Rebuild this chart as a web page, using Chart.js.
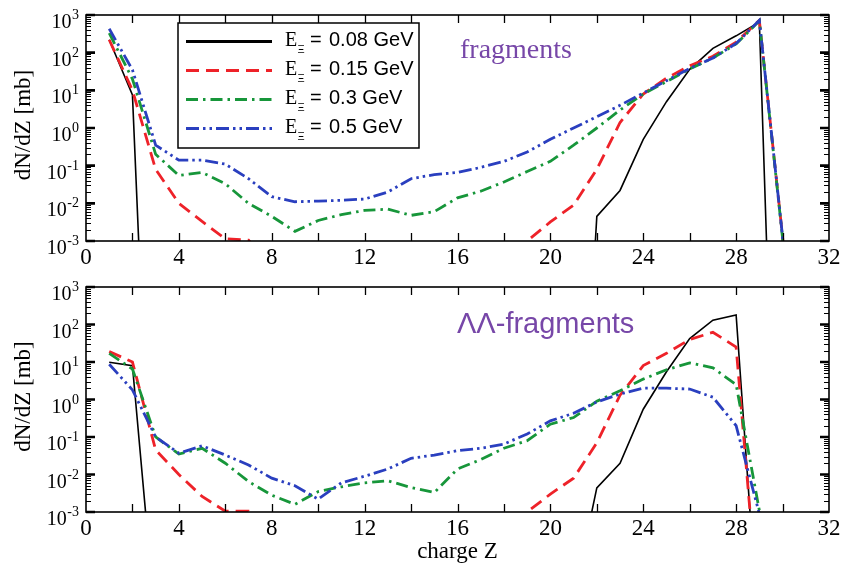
<!DOCTYPE html>
<html>
<head>
<meta charset="utf-8">
<script src="https://cdn.jsdelivr.net/npm/chart.js@4.4.1/dist/chart.umd.min.js"></script>
<style>
  html, body { margin: 0; padding: 0; background: #fff; }
  canvas { display: block; }
</style>
</head>
<body>
<canvas id="top" width="842" height="272"></canvas>
<canvas id="bottom" width="842" height="294"></canvas>
<script>
// ---------------- DATA ----------------
const Z_VALUES = [1,2,3,4,5,6,7,8,9,10,11,12,13,14,15,16,17,18,19,20,21,22,23,24,25,26,27,28,29,30,31];
const ENERGY_LABELS = ['0.08', '0.15', '0.3', '0.5'];
const X_TICK_LABELS = [0, 4, 8, 12, 16, 20, 24, 28, 32];
const X_TICK_MARKS = [2, 4, 6, 8, 10, 12, 14, 16, 18, 20, 22, 24, 26, 28, 30];
const Y_TICK_EXPONENTS = ['3', '2', '1', '0', '-1', '-2', '-3'];
const PANEL_LABELS = ['fragments', 'ΛΛ-fragments'];

// top panel: fragments, dN/dZ [mb]
const FRAG_E008 = [220, 7.5, 3e-14, null, null, null, null, null, null, null, null, null, null, null, null, null, null, null, null, null, 1e-13, 4.5e-3, 0.022, 0.5, 5, 36, 130, 280, 650, 1e-16, null];
const FRAG_E015 = [220, 10, 0.08, 0.01, 3.3e-3, 1.15e-3, 1.05e-3, 2e-4, null, null, null, null, null, null, null, null, null, 2e-4, 1.0e-3, 3.2e-3, 9e-3, 0.08, 1.4, 8, 21, 45, 80, 190, 720, 1.3e-3, 1e-12];
const FRAG_E03  = [330, 20, 0.2, 0.055, 0.066, 0.033, 0.01, 4.5e-3, 1.8e-3, 3.5e-3, 5e-3, 6.5e-3, 7e-3, 4.8e-3, 6e-3, 0.014, 0.021, 0.037, 0.07, 0.13, 0.35, 1.0, 3.0, 8, 17, 37, 72, 170, 700, 1.2e-3, 1e-12];
const FRAG_E05  = [430, 35, 0.35, 0.14, 0.14, 0.11, 0.045, 0.015, 0.011, 0.0115, 0.012, 0.013, 0.02, 0.045, 0.058, 0.066, 0.09, 0.13, 0.23, 0.5, 1.0, 2.0, 4.0, 8.5, 18, 38, 72, 175, 720, 1.3e-3, 1e-12];

// bottom panel: LambdaLambda-fragments, dN/dZ [mb]
const LL_E008 = [9.8, 8, 1e-6, null, null, null, null, null, null, null, null, null, null, null, null, null, null, null, null, null, 5e-6, 4.4e-3, 0.02, 0.55, 5.5, 42, 130, 180, 3e-7, null, null];
const LL_E015 = [19, 10, 0.045, 0.01, 2.6e-3, 1.05e-3, 1.05e-3, 2e-4, null, null, null, null, null, null, null, null, null, 2e-4, 1.0e-3, 3e-3, 8e-3, 0.07, 1.3, 8, 17, 40, 62, 25, 1.2e-6, null, null];
const LL_E03  = [17, 6.5, 0.1, 0.035, 0.05, 0.02, 6.5e-3, 2.8e-3, 1.6e-3, 3.5e-3, 4.7e-3, 6e-3, 6.8e-3, 4.5e-3, 3.3e-3, 0.014, 0.025, 0.05, 0.08, 0.22, 0.33, 0.9, 1.7, 3.5, 6.2, 9.5, 7, 2.5, 1.1e-3, 1e-10, null];
const LL_E05  = [8.7, 1.8, 0.1, 0.037, 0.058, 0.033, 0.018, 8e-3, 5e-3, 2.2e-3, 6e-3, 9e-3, 0.014, 0.027, 0.033, 0.043, 0.05, 0.065, 0.12, 0.27, 0.43, 0.86, 1.4, 2.0, 2.0, 1.9, 1.15, 0.2, 9e-4, null, null];

// ---------------- STYLE ----------------
const STYLES = [
  { color: '#000000', width: 1.6, dash: [] , legendWidth: 3},
  { color: '#ee2229', width: 2.8, dash: [13, 7], legendWidth: 3 },
  { color: '#17963a', width: 2.8, dash: [12, 5, 2.5, 5], legendWidth: 3 },
  { color: '#2a3fbf', width: 2.8, dash: [13, 4, 2.5, 4, 2.5, 4], legendWidth: 3 }
];
const PURPLE = '#7747a8';

function makeDatasets(seriesList) {
  return seriesList.map((vals, i) => ({
    label: 'E = ' + ENERGY_LABELS[i] + ' GeV',
    data: Z_VALUES.map((z, k) => ({ x: z, y: vals[k] })),
    borderColor: STYLES[i].color,
    borderWidth: STYLES[i].width,
    borderDash: STYLES[i].dash,
    borderCapStyle: 'butt',
    pointRadius: 0,
    fill: false,
    tension: 0,
    spanGaps: false,
    clip: 0
  })).reverse();
}

function drawFrameAndAxes(chart, cfg) {
  const { ctx, chartArea: a, scales: { x, y } } = chart;
  ctx.save();
  ctx.strokeStyle = '#000';
  ctx.setLineDash([]);
  // x tick marks (inward, top and bottom)
  ctx.lineWidth = 1.3;
  X_TICK_MARKS.forEach(v => {
    const px = Math.round(x.getPixelForValue(v)) + 0.5;
    ctx.beginPath();
    ctx.moveTo(px, a.bottom); ctx.lineTo(px, a.bottom - 8);
    ctx.moveTo(px, a.top); ctx.lineTo(px, a.top + 8);
    ctx.stroke();
  });
  // y tick marks (inward, left and right)
  for (let e = -3; e <= 3; e++) {
    const py = y.getPixelForValue(Math.pow(10, e));
    ctx.lineWidth = 2.6;
    ctx.beginPath();
    ctx.moveTo(a.left, py); ctx.lineTo(a.left + 9, py);
    ctx.moveTo(a.right, py); ctx.lineTo(a.right - 9, py);
    ctx.stroke();
    if (e < 3) {
      ctx.lineWidth = 1;
      for (let m = 2; m <= 9; m++) {
        const pm = Math.round(y.getPixelForValue(m * Math.pow(10, e))) + 0.5;
        ctx.beginPath();
        ctx.moveTo(a.left, pm); ctx.lineTo(a.left + 5, pm);
        ctx.moveTo(a.right, pm); ctx.lineTo(a.right - 5, pm);
        ctx.stroke();
      }
    }
  }
  // frame
  ctx.lineWidth = 1.6;
  ctx.strokeRect(a.left, a.top, a.right - a.left, a.bottom - a.top);

  // x tick labels
  ctx.fillStyle = '#000';
  ctx.font = '23px "Liberation Serif"';
  ctx.textAlign = 'center';
  ctx.textBaseline = 'alphabetic';
  X_TICK_LABELS.forEach(v => {
    ctx.fillText(String(v), x.getPixelForValue(v), a.bottom + 23);
  });
  // y tick labels 10^n
  Y_TICK_EXPONENTS.forEach(ex => {
    const py = y.getPixelForValue(Math.pow(10, Number(ex)));
    ctx.font = '14px "Liberation Serif"';
    const sw = ctx.measureText(ex).width;
    ctx.textAlign = 'right';
    ctx.fillText(ex, 79, py + 4);
    ctx.font = '20px "Liberation Serif"';
    ctx.fillText('10', 79 - sw - 0.5, py + 13);
  });
  // y axis title
  ctx.save();
  ctx.translate(24, (a.top + a.bottom) / 2 - 3);
  ctx.rotate(-Math.PI / 2);
  ctx.textAlign = 'center';
  ctx.textBaseline = 'middle';
  ctx.font = '23px "Liberation Serif"';
  ctx.fillText('dN/dZ [mb]', 0, 0);
  ctx.restore();

  // panel label
  ctx.fillStyle = PURPLE;
  ctx.textAlign = 'left';
  ctx.textBaseline = 'alphabetic';
  if (cfg.panel === 0) {
    ctx.font = '28px "Liberation Serif"';
    ctx.fillText(PANEL_LABELS[0], 460, 58);
  } else {
    ctx.font = '29px "Liberation Sans"';
    ctx.fillText(PANEL_LABELS[1], 457, 61);
  }

  // x axis title on bottom panel
  if (cfg.xTitle) {
    ctx.fillStyle = '#000';
    ctx.textAlign = 'center';
    ctx.font = '23px "Liberation Serif"';
    ctx.fillText('charge Z', (a.left + a.right) / 2, a.bottom + 46);
  }

  // legend
  if (cfg.legend) {
    const bx = 178, by = 23, bw = 241, bh = 125;
    ctx.fillStyle = '#fff';
    ctx.fillRect(bx, by, bw, bh);
    ctx.strokeStyle = '#000';
    ctx.lineWidth = 1.5;
    ctx.strokeRect(bx, by, bw, bh);
    const rows = [41.5, 70.5, 99.5, 128.5];
    STYLES.forEach((s, i) => {
      ctx.beginPath();
      ctx.setLineDash(s.dash);
      ctx.strokeStyle = s.color;
      ctx.lineWidth = s.legendWidth;
      ctx.lineCap = 'butt';
      ctx.moveTo(186, rows[i]);
      ctx.lineTo(272, rows[i]);
      ctx.stroke();
      ctx.setLineDash([]);
      ctx.fillStyle = '#000';
      ctx.textAlign = 'left';
      ctx.textBaseline = 'alphabetic';
      ctx.font = '20px "Liberation Serif"';
      ctx.fillText('E', 285, rows[i] + 4.5);
      ctx.font = '11px "Liberation Sans"';
      ctx.fillText('Ξ', 297.5, rows[i] + 11);
      ctx.font = '20px "Liberation Sans"';
      ctx.fillText('=', 310, rows[i] + 4.5);
      ctx.fillText(ENERGY_LABELS[i] + ' GeV', 329, rows[i] + 4.5);
    });
  }
  ctx.restore();
}

const framePlugin = {
  id: 'framePlugin',
  afterDatasetsDraw(chart, args, opts) { drawFrameAndAxes(chart, opts); }
};

function makeChart(id, seriesList, padding, cfg) {
  return new Chart(document.getElementById(id), {
    type: 'line',
    data: { datasets: makeDatasets(seriesList) },
    options: {
      responsive: false,
      animation: false,
      devicePixelRatio: 1,
      layout: { padding: padding },
      parsing: true,
      scales: {
        x: { type: 'linear', min: 0, max: 32, display: false },
        y: { type: 'logarithmic', min: 1e-3, max: 1e3, display: false }
      },
      plugins: {
        legend: { display: false },
        tooltip: { enabled: false },
        framePlugin: cfg
      }
    },
    plugins: [framePlugin]
  });
}

makeChart('top', [FRAG_E008, FRAG_E015, FRAG_E03, FRAG_E05],
  { left: 86, right: 13, top: 15, bottom: 31 },
  { panel: 0, legend: true, xTitle: false });
makeChart('bottom', [LL_E008, LL_E015, LL_E03, LL_E05],
  { left: 86, right: 13, top: 15, bottom: 54 },
  { panel: 1, legend: false, xTitle: true });
</script>
</body>
</html>
